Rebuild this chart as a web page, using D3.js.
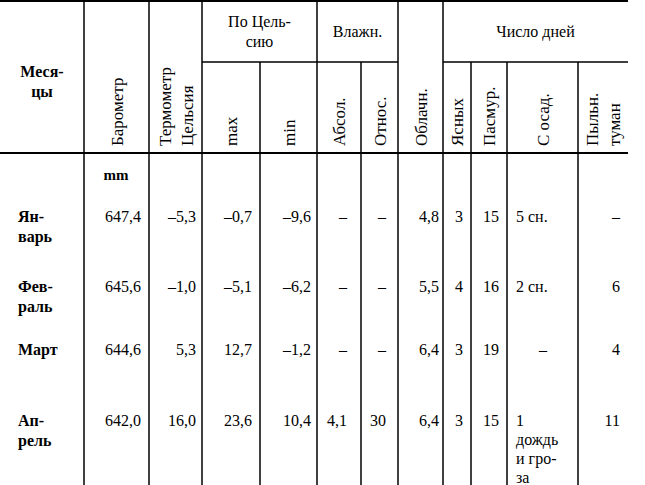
<!DOCTYPE html>
<html><head><meta charset="utf-8">
<script src="https://cdn.jsdelivr.net/npm/d3@7"></script>
<style>body{margin:0;background:#fff}</style>
</head><body>
<svg id="t" width="645" height="485" font-family="'Liberation Serif', 'DejaVu Serif', 'Times New Roman', serif"></svg>
<script>
// column edges (x) and header layout
const colEdges = [0, 84, 149, 202, 260, 317, 361, 398, 443, 471, 507, 578, 628];
const colTitles = [["Меся-","цы"],["Барометр"],["Термометр","Цельсия"],["max"],["min"],["Абсол."],["Относ."],["Облачн."],["Ясных"],["Пасмур."],["С осад."],["Пыльн.","туман"]];
const groups = [{label:["По Цель-","сию"], from:3, to:5},{label:["Влажн."], from:5, to:7},{label:["Число дней"], from:8, to:12}];

const months = [["Ян-","варь"],["Фев-","раль"],["Март"],["Ап-","рель"]];
const baro = ["647,4","645,6","644,6","642,0"];
const therm = ["–5,3","–1,0","5,3","16,0"];
const tmax = ["–0,7","–5,1","12,7","23,6"];
const tmin = ["–9,6","–6,2","–1,2","10,4"];
const hAbs = ["–","–","–","4,1"];
const hRel = ["–","–","–","30"];
const cloud = ["4,8","5,5","6,4","6,4"];
const clear = ["3","4","3","3"];
const overcast = ["15","16","19","15"];
const precip = [["5 сн."],["2 сн."],["–"],["1","дождь","и гро-","за"]];
const dust = ["–","6","4","11"];
const rowY = [217, 287, 350, 421];

const svg = d3.select("#t");
const edge = i => colEdges[i];
const lh = 20;

// lines
svg.append("line").attr("x1",0).attr("x2",628).attr("y1",1).attr("y2",1).attr("stroke","#000").attr("stroke-width",2);
svg.append("line").attr("x1",0).attr("x2",628).attr("y1",153).attr("y2",153).attr("stroke","#000").attr("stroke-width",2);
groups.forEach(g => svg.append("line").attr("x1",edge(g.from)).attr("x2",edge(g.to)).attr("y1",62).attr("y2",62).attr("stroke","#000").attr("stroke-width",1.5));
colEdges.slice(1,-1).forEach((e,i) => {
  const idx = i+1;
  const inGroup = groups.some(g => idx > g.from && idx < g.to);
  svg.append("line").attr("x1",e).attr("x2",e).attr("y1", inGroup ? 62 : 0).attr("y2",485).attr("stroke","#000").attr("stroke-width",1.5);
});

// group headers
groups.forEach(g => {
  const cx = (edge(g.from)+edge(g.to))/2;
  g.label.forEach((l,k) => svg.append("text").attr("x",cx).attr("y", g.label.length>1 ? 27+k*20 : 37)
    .attr("text-anchor","middle").attr("font-size",16).text(l));
});

// column headers
colTitles.forEach((t,i) => {
  const cx = (edge(i)+edge(i+1))/2;
  if (i === 0) {
    t.forEach((l,k) => svg.append("text").attr("x",cx).attr("y",77+k*20).attr("text-anchor","middle")
      .attr("font-size",16).attr("font-weight","bold").text(l));
    return;
  }
  const n = t.length;
  t.forEach((l,k) => {
    const xx = cx + (k - (n-1)/2)*22 + 6;
    svg.append("text").attr("transform",`translate(${xx},146) rotate(-90)`)
      .attr("font-size",17).text(l);
  });
});

svg.append("text").attr("x",116).attr("y",180).attr("text-anchor","middle").attr("font-size",15).attr("font-weight","bold").text("mm");

// body
const right = (i, pad) => edge(i+1) - pad;
const cols = [
  {v:baro,i:1,pad:8},{v:therm,i:2,pad:6},{v:tmax,i:3,pad:8},{v:tmin,i:4,pad:6},
  {v:hAbs,i:5,pad:14},{v:hRel,i:6,pad:12},{v:cloud,i:7,pad:4},{v:clear,i:8,pad:8},
  {v:overcast,i:9,pad:8},{v:dust,i:11,pad:8}
];
months.forEach((m,r) => {
  m.forEach((l,k) => svg.append("text").attr("x",18).attr("y",rowY[r]+k*lh+5).attr("font-size",16).attr("font-weight","bold").text(l));
  cols.forEach(c => svg.append("text").attr("x",right(c.i,c.pad)).attr("y",rowY[r]+5).attr("text-anchor","end").attr("font-size",16).text(c.v[r]));
  const p = precip[r];
  p.forEach((l,k) => svg.append("text").attr("x", l==="–" ? 543 : 516).attr("y",rowY[r]+k*19+5)
    .attr("text-anchor", l==="–" ? "middle" : "start").attr("font-size",16).text(l));
});
</script>
</body></html>
